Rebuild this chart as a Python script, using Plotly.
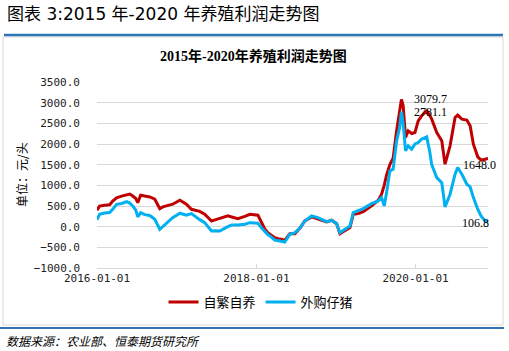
import plotly.graph_objects as go

dates = [
    "2016-01-01", "2016-01-13", "2016-02-05", "2016-02-28", "2016-03-13", "2016-03-31",
    "2016-04-23", "2016-05-16", "2016-05-30", "2016-06-13", "2016-06-27", "2016-07-06",
    "2016-07-19", "2016-08-07", "2016-08-30", "2016-09-22", "2016-10-15", "2016-10-29",
    "2016-11-20", "2016-12-13", "2017-01-15", "2017-02-14", "2017-03-09", "2017-04-01",
    "2017-04-16", "2017-05-09", "2017-06-09", "2017-06-29", "2017-07-17", "2017-08-23",
    "2017-09-10", "2017-10-08", "2017-11-09", "2017-12-02", "2018-01-08", "2018-01-24",
    "2018-02-09", "2018-02-22", "2018-03-04", "2018-03-26", "2018-04-18", "2018-05-11",
    "2018-06-03", "2018-06-26", "2018-07-19", "2018-08-11", "2018-09-11", "2018-10-10",
    "2018-11-19", "2018-12-12", "2019-01-04", "2019-01-19", "2019-02-11", "2019-03-06",
    "2019-03-21", "2019-04-13", "2019-05-06", "2019-06-13", "2019-07-14", "2019-07-29",
    "2019-08-10", "2019-08-21", "2019-09-05", "2019-09-20", "2019-10-06", "2019-10-20",
    "2019-10-28", "2019-11-05", "2019-11-16", "2019-11-28", "2019-12-14", "2019-12-29",
    "2020-01-13", "2020-01-29", "2020-02-21", "2020-03-05", "2020-03-15", "2020-04-07",
    "2020-04-30", "2020-05-15", "2020-06-07", "2020-06-30", "2020-07-12", "2020-07-31",
    "2020-08-23", "2020-09-07", "2020-09-22", "2020-10-12", "2020-10-27", "2020-11-15",
    "2020-11-28",
]

self_bred = [
    400, 500, 520, 530, 620, 700,
    740, 780, 790, 740, 680, 580,
    760, 740, 720, 664, 437, 480,
    510, 543, 640, 543, 420, 380,
    370, 300, 138, 170, 194, 260,
    235, 194, 250, 300, 276, 97,
    -60, -145, -190, -266, -300, -330,
    -170, -170, -40, 138, 235, 180,
    114, 155, 73, -170, -104, -24,
    300, 315, 363, 502, 640, 785,
    1000, 1250, 1500, 1657, 2319, 2800,
    3079.7, 2925, 2157, 2319, 2254, 2278,
    2561, 2682, 2803, 2700, 2602, 2278,
    2077, 1512, 1955, 2641, 2699, 2602,
    2578, 2440, 1996, 1689, 1609, 1633,
    1648.0,
]

bought_piglet = [
    170, 300, 330, 340, 420, 540,
    560, 606, 570, 500, 400, 235,
    340, 290, 270, 180, -63, 0,
    120, 218, 325, 276, 315, 218,
    170, 97, -104, -100, -104, 0,
    41, 41, 60, 97, 82, -24,
    -130, -190, -225, -322, -345, -370,
    -185, -145, -40, 138, 259, 218,
    121, 155, 73, -145, -63, 17,
    340, 397, 437, 557, 623, 703,
    502, 824, 1350, 1390, 2077, 2400,
    2781.1, 2500, 1834, 1955, 1875, 2000,
    2036, 2120, 2173, 1834, 1500, 1187,
    1066, 477, 785, 1270, 1430, 1270,
    1027, 962, 703, 421, 259, 138,
    106.8,
]

series_names = ["自繁自养", "外购仔猪"]
x_ticks = ["2016-01-01", "2018-01-01", "2020-01-01"]
y_ticks = [-1000, -500, 0, 500, 1000, 1500, 2000, 2500, 3000, 3500]

RED = "#C00000"
BLUE = "#00B0F0"
GRID = "#D9D9D9"

fig = go.Figure()
fig.add_trace(go.Scatter(x=dates, y=self_bred, mode="lines", name=series_names[0],
                         line=dict(color=RED, width=3)))
fig.add_trace(go.Scatter(x=dates, y=bought_piglet, mode="lines", name=series_names[1],
                         line=dict(color=BLUE, width=3)))

# Plot area pixel geometry
L, R, T, B = 97, 488, 82, 268
W, H = 509, 351


def px(xp):
    return (xp - L) / (R - L)


def py(yp):
    return (B - yp) / (B - T)


mono = "DejaVu Sans Mono"
cjk = "Noto Sans CJK SC"

fig.update_layout(
    width=W, height=H,
    margin=dict(l=L, r=W - R, t=T, b=H - B),
    paper_bgcolor="white", plot_bgcolor="white",
    showlegend=True,
    legend=dict(orientation="h", x=px(261), xanchor="center", y=py(302), yanchor="middle",
                font=dict(family=cjk, size=13, color="#000000"),
                itemwidth=30, bgcolor="rgba(0,0,0,0)"),
    xaxis=dict(type="date", range=[dates[0], dates[-1]], tickvals=x_ticks, ticktext=x_ticks,
               showgrid=False, showline=True, linecolor=GRID, linewidth=1,
               ticks="inside", ticklen=4, tickcolor=GRID,
               tickfont=dict(family=mono, size=11, color="#222222"), zeroline=False),
    yaxis=dict(range=[-1000, 3500], tickvals=y_ticks, tickformat=".1f",
               showgrid=True, gridcolor=GRID, gridwidth=1, zeroline=False,
               showline=False, ticks="", ticklabelstandoff=16,
               tickfont=dict(family=mono, size=11, color="#222222")),
)

shapes = [
    dict(type="rect", xref="paper", yref="paper", x0=px(3), x1=px(503), y0=py(325), y1=py(37),
         line=dict(color=GRID, width=1), layer="below"),
    dict(type="line", xref="paper", yref="paper", x0=px(4), x1=px(503), y0=py(35), y1=py(35),
         line=dict(color="#2E75B6", width=2.5)),
    dict(type="line", xref="paper", yref="paper", x0=px(0), x1=px(504), y0=py(328), y1=py(328),
         line=dict(color="#2E75B6", width=2)),
]
fig.update_layout(shapes=shapes)

ann = []
ann.append(dict(text="图表 3:2015 年-2020 年养殖利润走势图", xref="paper", yref="paper",
                x=px(5), y=py(14), xanchor="left", yanchor="middle", showarrow=False,
                font=dict(family="DejaVu Sans, Noto Sans CJK SC", size=17, color="#000000")))
ann.append(dict(text="<b>2015年-2020年养殖利润走势图</b>", xref="paper", yref="paper",
                x=px(253), y=py(56), xanchor="center", yanchor="middle", showarrow=False,
                font=dict(family="Liberation Serif, Noto Sans CJK SC", size=14, color="#000000")))
ann.append(dict(text="单位：元/头", xref="paper", yref="paper", x=px(21), y=py(175),
                xanchor="center", yanchor="middle", textangle=-90, showarrow=False,
                font=dict(family=cjk, size=12, color="#000000")))
ann.append(dict(text="<i>数据来源：农业部、恒泰期货研究所</i>", xref="paper", yref="paper",
                x=px(4), y=py(340), xanchor="left", yanchor="middle", showarrow=False,
                font=dict(family=cjk, size=12, color="#000000")))

# data labels
lab_font = dict(family="Liberation Serif", size=12, color="#000000")
ipk_r = self_bred.index(max(self_bred))
ipk_b = bought_piglet.index(max(bought_piglet))
ann.append(dict(text=f"{self_bred[ipk_r]:.1f}", x=dates[ipk_r], y=self_bred[ipk_r],
                xanchor="left", yanchor="middle", xshift=11, showarrow=False, font=lab_font))
ann.append(dict(text=f"{bought_piglet[ipk_b]:.1f}", x=dates[ipk_b], y=bought_piglet[ipk_b],
                xanchor="left", yanchor="middle", xshift=11, showarrow=False, font=lab_font))
ann.append(dict(text=f"{self_bred[-1]:.1f}", x=dates[-1], y=self_bred[-1],
                xanchor="right", yanchor="middle", xshift=10, yshift=-6, showarrow=False,
                font=lab_font))
ann.append(dict(text=f"{bought_piglet[-1]:.1f}", x=dates[-1], y=bought_piglet[-1],
                xanchor="right", yanchor="middle", xshift=3, yshift=-1, showarrow=False,
                font=lab_font))
fig.update_layout(annotations=ann)

fig.write_html("out.html")
